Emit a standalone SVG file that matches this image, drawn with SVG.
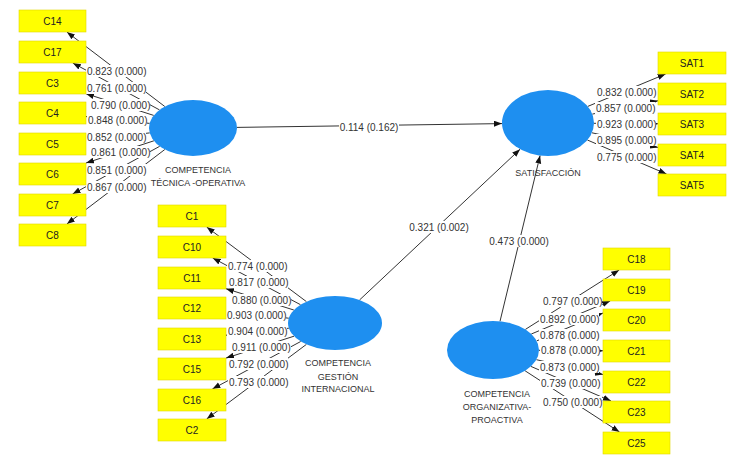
<svg xmlns="http://www.w3.org/2000/svg" width="756" height="460" viewBox="0 0 756 460">
<defs>
<style>
.box{fill:#ffff00;stroke:#e0d800;stroke-width:0.6}
.bt{font-family:"Liberation Sans",Arial,sans-serif;font-size:10px;fill:#222;text-anchor:middle;dominant-baseline:central}
.lv{fill:#1e8ff0}
.nl{font-family:"Liberation Sans",Arial,sans-serif;font-size:9px;fill:#333;text-anchor:middle}
.c{stroke:#333;stroke-width:1;fill:none;marker-end:url(#ah)}
.lb{font-family:"Liberation Sans",Arial,sans-serif;font-size:10px;fill:#333;dominant-baseline:central}
.lbm{font-family:"Liberation Sans",Arial,sans-serif;font-size:10px;fill:#333;dominant-baseline:central;text-anchor:middle}
.bg{fill:#fff}
</style>
<marker id="ah" markerUnits="userSpaceOnUse" markerWidth="9" markerHeight="7" refX="8" refY="3" orient="auto">
<path d="M0,0 L8,3 L0,6 z" fill="#111"/>
</marker>
</defs>
<rect width="756" height="460" fill="#fff"/>

<g id="connectors">
<line class="c" x1="164.8" y1="106.5" x2="66.9" y2="32"/>
<line class="c" x1="159.5" y1="109.9" x2="72.8" y2="63"/>
<line class="c" x1="153.7" y1="115.4" x2="86" y2="93.7"/>
<line class="c" x1="149.6" y1="123.4" x2="86" y2="116.6"/>
<line class="c" x1="149.7" y1="132.9" x2="86" y2="140.2"/>
<line class="c" x1="153.9" y1="140.8" x2="86" y2="163"/>
<line class="c" x1="159.7" y1="146.3" x2="72.6" y2="194"/>
<line class="c" x1="164.8" y1="149.5" x2="66.9" y2="224"/>

<line class="c" x1="306.4" y1="301.6" x2="206.7" y2="227"/>
<line class="c" x1="300.5" y1="304.7" x2="212.7" y2="258"/>
<line class="c" x1="293.8" y1="310" x2="226" y2="288.7"/>
<line class="c" x1="288.8" y1="318.2" x2="226" y2="311.6"/>
<line class="c" x1="288.9" y1="328.2" x2="226" y2="335.2"/>
<line class="c" x1="294" y1="336.2" x2="226" y2="358.1"/>
<line class="c" x1="300.7" y1="341.5" x2="212.4" y2="389"/>
<line class="c" x1="306.4" y1="344.4" x2="206.7" y2="419"/>

<line class="c" x1="587.8" y1="106.4" x2="665.6" y2="74"/>
<line class="c" x1="592.3" y1="114.1" x2="658" y2="100.8"/>
<line class="c" x1="594" y1="123.3" x2="658" y2="123.8"/>
<line class="c" x1="592" y1="132.8" x2="658" y2="147.4"/>
<line class="c" x1="587.4" y1="140" x2="666.5" y2="174"/>

<line class="c" x1="525.4" y1="329.4" x2="619.2" y2="270"/>
<line class="c" x1="531.3" y1="334" x2="610.2" y2="301"/>
<line class="c" x1="536.7" y1="340.9" x2="603" y2="313"/>
<line class="c" x1="539" y1="350.3" x2="603" y2="350.8"/>
<line class="c" x1="536.4" y1="359.7" x2="603" y2="374.5"/>
<line class="c" x1="530.9" y1="366.4" x2="611" y2="401"/>
<line class="c" x1="525.1" y1="370.8" x2="619.5" y2="432"/>

<line class="c" x1="237" y1="127.4" x2="502" y2="123.6"/>
<line class="c" x1="359.5" y1="300" x2="520.1" y2="149.2"/>
<line class="c" x1="500" y1="321.3" x2="540.1" y2="155.5"/>

<g id="labels">
<rect class="bg" x="86" y="65" width="60" height="12"/><text class="lb" x="87" y="71">0.823 (0.000)</text>
<rect class="bg" x="86" y="82" width="60" height="12"/><text class="lb" x="87" y="88">0.761 (0.000)</text>
<rect class="bg" x="90" y="99" width="60" height="12"/><text class="lb" x="91" y="105">0.790 (0.000)</text>
<rect class="bg" x="87" y="114" width="60" height="12"/><text class="lb" x="88" y="120">0.848 (0.000)</text>
<rect class="bg" x="86" y="131" width="60" height="12"/><text class="lb" x="87" y="137">0.852 (0.000)</text>
<rect class="bg" x="90" y="146" width="60" height="12"/><text class="lb" x="91" y="152">0.861 (0.000)</text>
<rect class="bg" x="86" y="164" width="60" height="12"/><text class="lb" x="87" y="170">0.851 (0.000)</text>
<rect class="bg" x="86" y="181" width="60" height="12"/><text class="lb" x="87" y="187">0.867 (0.000)</text>

<rect class="bg" x="227" y="260" width="60" height="12"/><text class="lb" x="228" y="266">0.774 (0.000)</text>
<rect class="bg" x="228" y="276" width="60" height="12"/><text class="lb" x="229" y="282">0.817 (0.000)</text>
<rect class="bg" x="231" y="294" width="60" height="12"/><text class="lb" x="232" y="300">0.880 (0.000)</text>
<rect class="bg" x="226" y="309" width="60" height="12"/><text class="lb" x="227" y="315">0.903 (0.000)</text>
<rect class="bg" x="227" y="325" width="60" height="12"/><text class="lb" x="228" y="331">0.904 (0.000)</text>
<rect class="bg" x="231" y="341" width="60" height="12"/><text class="lb" x="232" y="347">0.911 (0.000)</text>
<rect class="bg" x="228" y="358" width="60" height="12"/><text class="lb" x="229" y="364">0.792 (0.000)</text>
<rect class="bg" x="228" y="376" width="60" height="12"/><text class="lb" x="229" y="382">0.793 (0.000)</text>

<rect class="bg" x="596" y="86" width="60" height="12"/><text class="lb" x="597" y="92">0.832 (0.000)</text>
<rect class="bg" x="595" y="102" width="60" height="12"/><text class="lb" x="596" y="108">0.857 (0.000)</text>
<rect class="bg" x="596" y="118" width="60" height="12"/><text class="lb" x="597" y="124">0.923 (0.000)</text>
<rect class="bg" x="596" y="134" width="60" height="12"/><text class="lb" x="597" y="140">0.895 (0.000)</text>
<rect class="bg" x="596" y="151" width="60" height="12"/><text class="lb" x="597" y="157">0.775 (0.000)</text>

<rect class="bg" x="542" y="295" width="60" height="12"/><text class="lb" x="543" y="301">0.797 (0.000)</text>
<rect class="bg" x="539" y="313" width="60" height="12"/><text class="lb" x="540" y="319">0.892 (0.000)</text>
<rect class="bg" x="539" y="329" width="60" height="12"/><text class="lb" x="540" y="335">0.878 (0.000)</text>
<rect class="bg" x="540" y="344" width="60" height="12"/><text class="lb" x="541" y="350">0.878 (0.000)</text>
<rect class="bg" x="539" y="361" width="60" height="12"/><text class="lb" x="540" y="367">0.873 (0.000)</text>
<rect class="bg" x="540" y="377" width="60" height="12"/><text class="lb" x="541" y="383">0.739 (0.000)</text>
<rect class="bg" x="542" y="396" width="60" height="12"/><text class="lb" x="543" y="402">0.750 (0.000)</text>

<rect class="bg" x="339" y="121" width="60" height="12"/><text class="lbm" x="369" y="127">0.114 (0.162)</text>
<rect class="bg" x="409" y="221" width="60" height="12"/><text class="lbm" x="439" y="227">0.321 (0.002)</text>
<rect class="bg" x="489" y="235" width="60" height="12"/><text class="lbm" x="519" y="241">0.473 (0.000)</text>
</g>
</g>

<g id="tecnica">
<ellipse class="lv" cx="193" cy="128" rx="44" ry="28"/>
<text class="nl" x="198" y="173">COMPETENCIA</text>
<text class="nl" x="198" y="186">TÉCNICA -OPERATIVA</text>
</g>
<g id="gestion">
<ellipse class="lv" cx="335" cy="323" rx="47" ry="27"/>
<text class="nl" x="338" y="366">COMPETENCIA</text>
<text class="nl" x="338" y="380">GESTIÓN</text>
<text class="nl" x="338" y="392">INTERNACIONAL</text>
</g>
<g id="satisfaccion">
<ellipse class="lv" cx="548" cy="123" rx="46" ry="33"/>
<text class="nl" x="548" y="176">SATISFACCIÓN</text>
</g>
<g id="organizativa">
<ellipse class="lv" cx="493" cy="350" rx="46" ry="29"/>
<text class="nl" x="497" y="397">COMPETENCIA</text>
<text class="nl" x="497" y="410">ORGANIZATIVA-</text>
<text class="nl" x="497" y="423">PROACTIVA</text>
</g>

<g id="C14"><rect class="box" x="19" y="10" width="67" height="22"/><text class="bt" x="52.5" y="21">C14</text></g>
<g id="C17"><rect class="box" x="19" y="41" width="67" height="22"/><text class="bt" x="52.5" y="52">C17</text></g>
<g id="C3"><rect class="box" x="19" y="72" width="67" height="22"/><text class="bt" x="52.5" y="83">C3</text></g>
<g id="C4"><rect class="box" x="19" y="102" width="67" height="22"/><text class="bt" x="52.5" y="113">C4</text></g>
<g id="C5"><rect class="box" x="19" y="133" width="67" height="22"/><text class="bt" x="52.5" y="144">C5</text></g>
<g id="C6"><rect class="box" x="19" y="163" width="67" height="22"/><text class="bt" x="52.5" y="174">C6</text></g>
<g id="C7"><rect class="box" x="19" y="194" width="67" height="22"/><text class="bt" x="52.5" y="205">C7</text></g>
<g id="C8"><rect class="box" x="19" y="224" width="67" height="22"/><text class="bt" x="52.5" y="235">C8</text></g>

<g id="C1"><rect class="box" x="158" y="205" width="68" height="22"/><text class="bt" x="192" y="216">C1</text></g>
<g id="C10"><rect class="box" x="158" y="236" width="68" height="22"/><text class="bt" x="192" y="247">C10</text></g>
<g id="C11"><rect class="box" x="158" y="267" width="68" height="22"/><text class="bt" x="192" y="278">C11</text></g>
<g id="C12"><rect class="box" x="158" y="297" width="68" height="22"/><text class="bt" x="192" y="308">C12</text></g>
<g id="C13"><rect class="box" x="158" y="328" width="68" height="22"/><text class="bt" x="192" y="339">C13</text></g>
<g id="C15"><rect class="box" x="158" y="358" width="68" height="22"/><text class="bt" x="192" y="369">C15</text></g>
<g id="C16"><rect class="box" x="158" y="389" width="68" height="22"/><text class="bt" x="192" y="400">C16</text></g>
<g id="C2"><rect class="box" x="158" y="419" width="68" height="22"/><text class="bt" x="192" y="430">C2</text></g>

<g id="SAT1"><rect class="box" x="658" y="52" width="68" height="22"/><text class="bt" x="692" y="63">SAT1</text></g>
<g id="SAT2"><rect class="box" x="658" y="83" width="68" height="22"/><text class="bt" x="692" y="94">SAT2</text></g>
<g id="SAT3"><rect class="box" x="658" y="113" width="68" height="22"/><text class="bt" x="692" y="124">SAT3</text></g>
<g id="SAT4"><rect class="box" x="658" y="144" width="68" height="22"/><text class="bt" x="692" y="155">SAT4</text></g>
<g id="SAT5"><rect class="box" x="658" y="174" width="68" height="22"/><text class="bt" x="692" y="185">SAT5</text></g>

<g id="C18"><rect class="box" x="603" y="248" width="67" height="22"/><text class="bt" x="636.5" y="259">C18</text></g>
<g id="C19"><rect class="box" x="603" y="279" width="67" height="22"/><text class="bt" x="636.5" y="290">C19</text></g>
<g id="C20"><rect class="box" x="603" y="309" width="67" height="22"/><text class="bt" x="636.5" y="320">C20</text></g>
<g id="C21"><rect class="box" x="603" y="340" width="67" height="22"/><text class="bt" x="636.5" y="351">C21</text></g>
<g id="C22"><rect class="box" x="603" y="371" width="67" height="22"/><text class="bt" x="636.5" y="382">C22</text></g>
<g id="C23"><rect class="box" x="603" y="401" width="67" height="22"/><text class="bt" x="636.5" y="412">C23</text></g>
<g id="C25"><rect class="box" x="603" y="432" width="67" height="22"/><text class="bt" x="636.5" y="443">C25</text></g>
</svg>
